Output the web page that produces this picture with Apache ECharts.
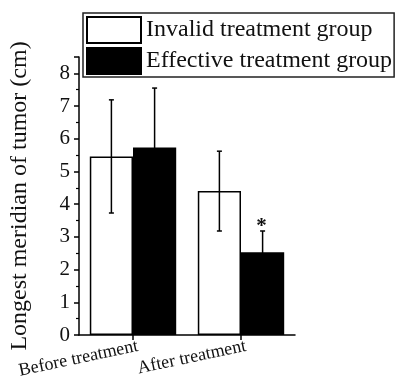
<!DOCTYPE html>
<html>
<head>
<meta charset="utf-8">
<script src="https://cdn.jsdelivr.net/npm/echarts@6/dist/echarts.min.js"></script>
<style>html,body{margin:0;padding:0;background:#fff}#c{width:395px;height:383px}</style>
</head>
<body>
<div id="c"></div>
<script>
var categories = ['Before treatment', 'After treatment'];
var seriesNames = ['Invalid treatment group', 'Effective treatment group'];
var invalidMean = [5.46, 4.40];
var invalidSD = [1.73, 1.22];
var effectiveMean = [5.73, 2.53];
var effectiveSD = [1.82, 0.65];
var effectiveMark = ['', '*'];
var yTicks = [0, 1, 2, 3, 4, 5, 6, 7, 8];

var FONT = 'Liberation Serif';
var TXT = '#111';

function errData(means, sds, marks) {
  return means.map(function (m, i) { return [i, m, sds[i], marks ? marks[i] : '']; });
}
function errRender(offset, marks) {
  return function (params, api) {
    var i = api.value(0), m = api.value(1), sd = api.value(2);
    var band = api.size([1, 0])[0];
    var c = api.coord([i, m]);
    var x = c[0] + offset * band;
    var yt = api.coord([i, m + sd])[1];
    var yb = api.coord([i, m - sd])[1];
    var st = { stroke: '#000', lineWidth: 1.5 };
    var children = [
      { type: 'line', shape: { x1: x, y1: yt, x2: x, y2: yb }, style: st },
      { type: 'line', shape: { x1: x - 2.5, y1: yt, x2: x + 2.5, y2: yt }, style: st },
      { type: 'line', shape: { x1: x - 2.5, y1: yb, x2: x + 2.5, y2: yb }, style: st }
    ];
    var mark = marks ? marks[params.dataIndex] : '';
    if (mark) {
      children.push({ type: 'text', style: { text: mark, x: x - 1, y: yt - 4, align: 'center', verticalAlign: 'middle', fill: TXT, font: 'bold 21px ' + FONT } });
    }
    return { type: 'group', children: children };
  };
}

var chart = echarts.init(document.getElementById('c'), null, { renderer: 'canvas' });
chart.setOption({
  animation: false,
  backgroundColor: '#fff',
  grid: { left: 77, right: 100, top: 57, bottom: 48, containLabel: false },
  legend: {
    orient: 'vertical', left: 83, top: 13, icon: 'rect',
    padding: [3, 2, 2, 3], itemGap: 3, itemWidth: 54, itemHeight: 26,
    borderColor: '#222', borderWidth: 1.5,
    textStyle: { fontFamily: FONT, fontSize: 24, color: TXT },
    data: seriesNames
  },
  xAxis: {
    type: 'category', data: categories, boundaryGap: true,
    axisLine: { show: true, lineStyle: { color: '#000', width: 1.5 } },
    axisTick: { show: true, alignWithLabel: true, length: 5, lineStyle: { color: '#000', width: 1.5 } },
    axisLabel: { rotate: 12, margin: 12, fontFamily: FONT, fontSize: 18, color: TXT, interval: 0,
      padding: [0, -5, 0, 0] },
    splitLine: { show: false }
  },
  yAxis: {
    type: 'value', min: 0, max: 8.5, interval: 1,
    name: 'Longest meridian of tumor (cm)', nameLocation: 'middle', nameGap: 47,
    nameTextStyle: { fontFamily: FONT, fontSize: 24, color: TXT },
    axisLine: { show: true, lineStyle: { color: '#000', width: 1.5 } },
    axisTick: { show: true, length: 5, lineStyle: { color: '#000', width: 1.5 } },
    minorTick: { show: true, splitNumber: 2, length: 3, lineStyle: { color: '#000', width: 1.2 } },
    axisLabel: { margin: 9, fontFamily: FONT, fontSize: 21, color: TXT, showMaxLabel: false,
      formatter: function (v) { return yTicks.indexOf(v) >= 0 ? String(v) : ''; } },
    splitLine: { show: false }
  },
  series: [
    { name: seriesNames[0], type: 'bar', data: invalidMean, barGap: '0%', barCategoryGap: '20%',
      itemStyle: { color: '#fff', borderColor: '#000', borderWidth: 1.5 } },
    { name: seriesNames[1], type: 'bar', data: effectiveMean, barGap: '0%', barCategoryGap: '20%',
      itemStyle: { color: '#000', borderColor: '#000', borderWidth: 1.5 } },
    { type: 'custom', renderItem: errRender(-0.2, null), data: errData(invalidMean, invalidSD), z: 5, silent: true },
    { type: 'custom', renderItem: errRender(0.2, effectiveMark), data: errData(effectiveMean, effectiveSD, effectiveMark), z: 5, silent: true }
  ]
});
</script>
</body>
</html>
